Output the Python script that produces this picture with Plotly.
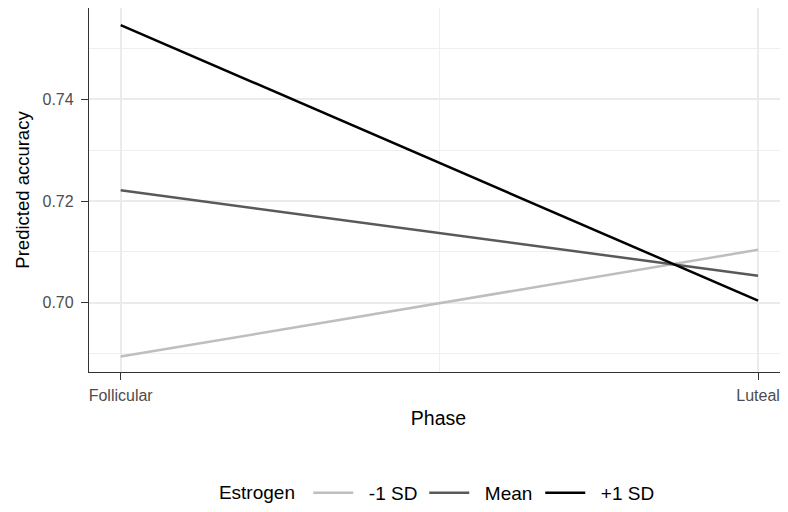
import plotly.graph_objects as go

phases = ["Follicular", "Luteal"]
phase_pos = [0, 1]
groups = ["-1 SD", "Mean", "+1 SD"]
values_minus = [0.6894, 0.7104]
values_mean = [0.7221, 0.7053]
values_plus = [0.7546, 0.7004]
colors = ["#BEBEBE", "#595959", "#000000"]

fig = go.Figure()
for name, vals, col in zip(groups, [values_minus, values_mean, values_plus], colors):
    fig.add_trace(go.Scatter(x=phase_pos, y=vals, mode="lines", name="  " + name,
                             line=dict(color=col, width=2.5)))

font = "Liberation Sans, Arial, Helvetica, sans-serif"
# page has an 8px body margin, so the figure is sized/offset to compensate
fig.update_layout(
    width=780, height=504,
    margin=dict(l=81, r=0, t=0, b=140),
    plot_bgcolor="white", paper_bgcolor="white",
    font=dict(family=font, color="#000000"),
    showlegend=True,
    legend=dict(orientation="h", x=0.183, xanchor="left", y=-0.332, yanchor="middle",
                title=dict(text="Estrogen ", side="left", font=dict(size=19)),
                font=dict(size=19, color="#000000"), itemwidth=40,
                entrywidth=61, traceorder="normal"),
)
fig.update_xaxes(
    range=[-0.0497, 1.047], tickvals=phase_pos, ticktext=phases,
    showgrid=True, gridcolor="#EBEBEB", gridwidth=1.6,
    minor=dict(tickvals=[0.5], showgrid=True, gridcolor="#EFEFEF", gridwidth=1),
    ticks="outside", ticklen=7, tickwidth=1.4, tickcolor="#333333",
    tickfont=dict(size=16, color="#4D4D4D"), ticklabelstandoff=2,
    showline=True, mirror=True, linecolor="#333333", linewidth=1.3,
    zeroline=False,
    title=dict(text="Phase", font=dict(size=19.5), standoff=8),
)
fig.update_yaxes(
    range=[0.68637, 0.75796], tickvals=[0.70, 0.72, 0.74], ticktext=["0.70", "0.72", "0.74"],
    showgrid=True, gridcolor="#EBEBEB", gridwidth=1.6,
    minor=dict(tickvals=[0.69, 0.71, 0.73, 0.75], showgrid=True, gridcolor="#EFEFEF", gridwidth=1),
    ticks="outside", ticklen=7, tickwidth=1.4, tickcolor="#333333",
    tickfont=dict(size=16, color="#4D4D4D"), ticklabelstandoff=4,
    showline=True, linecolor="#333333", linewidth=1.3,
    zeroline=False,
    title=dict(text="Predicted accuracy", font=dict(size=18.5), standoff=8),
)
fig.write_html("out.html")
